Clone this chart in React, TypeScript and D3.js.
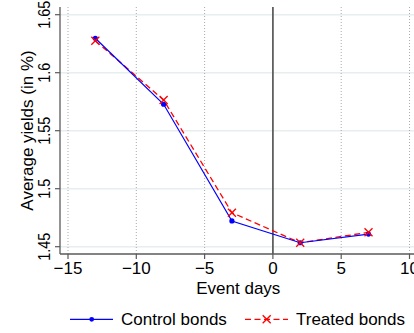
import React from "react";
import * as d3 from "d3";

const eventDays = [-13, -8, -3, 2, 7];
const controlBonds = [1.6297, 1.5728, 1.4722, 1.4534, 1.4609];
const treatedBonds = [1.6276, 1.5765, 1.4793, 1.4534, 1.4624];
const xTicks = [-15, -10, -5, 0, 5, 10];
const yTicks = [1.45, 1.5, 1.55, 1.6, 1.65];
const xGridTicks = [-15, -10, -5, 5, 10];
const seriesNames = ["Control bonds", "Treated bonds"];

const W = 414;
const H = 333;

export default function App() {
  const x = d3.scaleLinear().domain([-15, 10]).range([68, 409.5]);
  const y = d3.scaleLinear().domain([1.45, 1.65]).range([246.7, 14.7]);
  const plotLeft = 60;
  const plotTop = 7;
  const plotBottom = 254;
  const font = "'Liberation Sans', Arial, Helvetica, sans-serif";

  const line = d3
    .line<number>()
    .x((_, i) => x(eventDays[i]))
    .y((d) => y(d));

  const fmtY = (v: number) => d3.format("")(+v.toFixed(2));
  const fmtX = (v: number) => (v < 0 ? "\u2212" + Math.abs(v) : String(v));

  const xMark = (cx: number, cy: number, s: number, key: string) => (
    <path
      key={key}
      d={`M${cx - s},${cy - s}L${cx + s},${cy + s}M${cx - s},${cy + s}L${cx + s},${cy - s}`}
      stroke="#ff0000"
      strokeWidth={1.3}
      fill="none"
    />
  );

  return (
    <svg
      width={W}
      height={H}
      style={{ position: "absolute", left: 0, top: 0, background: "#fff" }}
      fontFamily={font}
    >
      {/* horizontal gridlines */}
      {yTicks.map((t) => (
        <line
          key={"hg" + t}
          x1={plotLeft}
          x2={W}
          y1={y(t)}
          y2={y(t)}
          stroke="#e6eeee"
          strokeWidth={1.5}
        />
      ))}
      {/* vertical dotted gridlines */}
      {xGridTicks.map((t) => (
        <line
          key={"vg" + t}
          x1={x(t)}
          x2={x(t)}
          y1={plotTop}
          y2={plotBottom}
          stroke="#aaaaaa"
          strokeWidth={1}
          strokeDasharray="1,2"
        />
      ))}
      {/* vertical line at 0 */}
      <line
        x1={x(0)}
        x2={x(0)}
        y1={plotTop}
        y2={plotBottom}
        stroke="#606060"
        strokeWidth={1.8}
      />
      {/* axes */}
      <line x1={plotLeft} x2={plotLeft} y1={plotTop} y2={plotBottom} stroke="#5a5a5a" strokeWidth={1.3} />
      <line x1={plotLeft} x2={W} y1={plotBottom} y2={plotBottom} stroke="#5a5a5a" strokeWidth={1.3} />
      {yTicks.map((t) => (
        <g key={"yt" + t}>
          <line x1={plotLeft - 5} x2={plotLeft} y1={y(t)} y2={y(t)} stroke="#5a5a5a" strokeWidth={1.2} />
          <text
            transform={`translate(50,${y(t)}) rotate(-90) scale(0.85,1)`}
            textAnchor="middle"
            fontSize={17}
            fill="#000"
          >
            {fmtY(t)}
          </text>
        </g>
      ))}
      {xTicks.map((t) => (
        <g key={"xt" + t}>
          <line x1={x(t)} x2={x(t)} y1={plotBottom} y2={plotBottom + 5} stroke="#5a5a5a" strokeWidth={1.2} />
          <text x={x(t)} y={273.5} textAnchor="middle" fontSize={17} fill="#000">
            {fmtX(t)}
          </text>
        </g>
      ))}
      {/* axis titles */}
      <text x={238.3} y={294} textAnchor="middle" fontSize={17} fill="#000">
        Event days
      </text>
      <text
        transform={`translate(33,130.5) rotate(-90)`}
        textAnchor="middle"
        fontSize={17}
        fill="#000"
      >
        Average yields (in %)
      </text>

      {/* series */}
      <path d={line(treatedBonds) || ""} fill="none" stroke="#ff0000" strokeWidth={1.3} strokeDasharray="6,3.5" />
      <path d={line(controlBonds) || ""} fill="none" stroke="#0000ff" strokeWidth={1.2} />
      {controlBonds.map((v, i) => (
        <circle key={"c" + i} cx={x(eventDays[i])} cy={y(v)} r={2.6} fill="#0000ff" />
      ))}
      {treatedBonds.map((v, i) => xMark(x(eventDays[i]), y(v), 4, "t" + i))}

      {/* legend */}
      <line x1={70} x2={113} y1={319.3} y2={319.3} stroke="#0000ff" strokeWidth={1.2} />
      <circle cx={91.7} cy={319.3} r={2.4} fill="#0000ff" />
      <text x={121} y={325} fontSize={17} fill="#000">
        {seriesNames[0]}
      </text>
      <line x1={245} x2={288} y1={319.3} y2={319.3} stroke="#ff0000" strokeWidth={1.3} strokeDasharray="6,3.5" />
      {xMark(266.7, 319.3, 4, "lx")}
      <text x={296} y={325} fontSize={17} fill="#000">
        {seriesNames[1]}
      </text>
    </svg>
  );
}
